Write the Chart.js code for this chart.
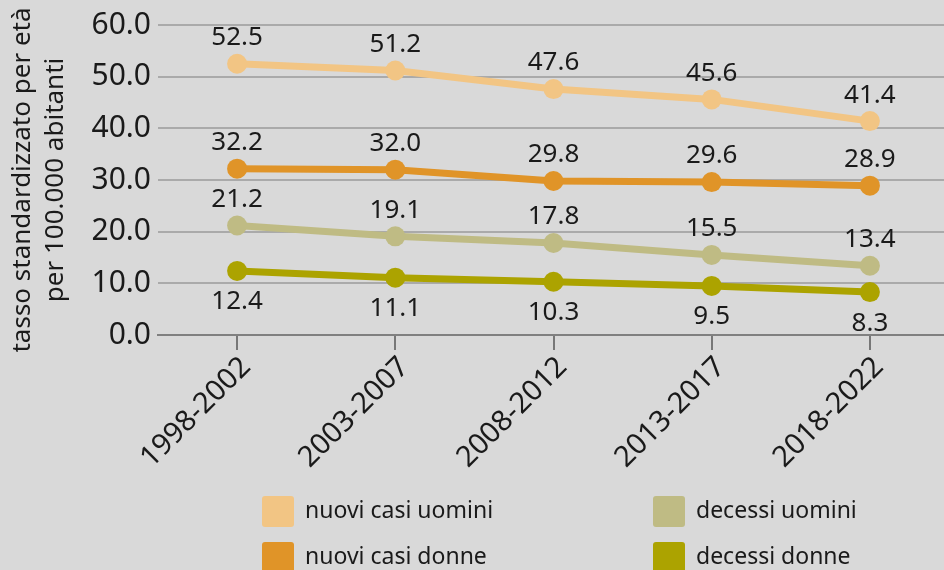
<!DOCTYPE html>
<html>
<head>
<meta charset="utf-8">
<script src="https://cdn.jsdelivr.net/npm/chart.js@4.4.1/dist/chart.umd.min.js"></script>
<style>
  html, body { margin: 0; padding: 0; width: 944px; height: 570px; overflow: hidden; background: #d9d9d9; font-family: "Noto Sans", sans-serif; }
  #wrap { position: absolute; left: 0; top: 0; width: 959px; height: 485px; }
  #legend { position: absolute; left: 0; top: 0; width: 944px; height: 570px; pointer-events: none; }
  .item { position: absolute; display: flex; align-items: center; height: 31px; font-size: 23px; color: #1a1a1a; white-space: nowrap; }
  .item span { position: relative; top: -3px; }
  .box { width: 32px; height: 31px; border-radius: 3px; margin-right: 11px; flex: none; }
</style>
</head>
<body>
<div id="wrap"><canvas id="c"></canvas></div>
<div id="legend"></div>
<script>
const categories = ["1998-2002", "2003-2007", "2008-2012", "2013-2017", "2018-2022"];
const nuoviCasiUomini = [52.5, 51.2, 47.6, 45.6, 41.4];
const nuoviCasiDonne = [32.2, 32.0, 29.8, 29.6, 28.9];
const decessiUomini = [21.2, 19.1, 17.8, 15.5, 13.4];
const decessiDonne = [12.4, 11.1, 10.3, 9.5, 8.3];
const yTicks = [0, 10, 20, 30, 40, 50, 60];
const seriesLabels = ["nuovi casi uomini", "nuovi casi donne", "decessi uomini", "decessi donne"];
const seriesColors = ["#f2c584", "#e09428", "#bfbb84", "#aca300"];
const labelBelow = [false, false, false, true];

const seriesData = [nuoviCasiUomini, nuoviCasiDonne, decessiUomini, decessiDonne];
const FONT = "'Noto Sans', sans-serif";
const TXT = "#1a1a1a";

const datasets = seriesData.map((d, i) => ({
  label: seriesLabels[i],
  data: d,
  borderColor: seriesColors[i],
  backgroundColor: seriesColors[i],
  pointBackgroundColor: seriesColors[i],
  pointBorderWidth: 0,
  pointRadius: 10,
  pointHoverRadius: 10,
  borderWidth: 7,
  tension: 0,
  fill: false,
  labelBelow: labelBelow[i]
}));

const valueLabels = {
  id: 'valueLabels',
  afterDatasetsDraw(chart) {
    const ctx = chart.ctx;
    ctx.save();
    ctx.font = "26px " + FONT;
    ctx.fillStyle = TXT;
    ctx.textAlign = 'center';
    ctx.textBaseline = 'middle';
    chart.data.datasets.forEach((ds, i) => {
      const meta = chart.getDatasetMeta(i);
      meta.data.forEach((pt, j) => {
        const v = ds.data[j];
        const y = ds.labelBelow ? pt.y + 31 : pt.y - 26;
        ctx.fillText(v.toFixed(1), pt.x, y);
      });
    });
    ctx.restore();
  }
};

new Chart(document.getElementById('c'), {
  type: 'line',
  data: { labels: categories, datasets },
  options: {
    responsive: true,
    maintainAspectRatio: false,
    animation: false,
    layout: { padding: { top: 24, right: 0, left: 0, bottom: 0 } },
    plugins: { legend: { display: false }, tooltip: { enabled: false } },
    scales: {
      x: {
        offset: true,
        grid: { drawOnChartArea: false, drawTicks: true, tickLength: 15, color: '#777', lineWidth: 2 },
        border: { display: true, color: '#808080', width: 2 },
        ticks: { font: { family: FONT, size: 29 }, color: TXT, minRotation: 45, maxRotation: 45, padding: 0, labelOffset: 9, autoSkip: false },
        afterFit(scale) { scale.height = 150; }
      },
      y: {
        min: 0, max: 60,
        afterBuildTicks(scale) { scale.ticks = yTicks.map(v => ({ value: v })); },
        grid: { color: '#aaaaaa', lineWidth: 2, drawTicks: false },
        border: { display: false },
        ticks: { font: { family: FONT, size: 30 }, color: TXT, padding: 7, callback: v => Number(v).toFixed(1) },
        title: { display: true, text: ['tasso standardizzato per età', 'per 100.000 abitanti'], font: { family: FONT, size: 26, lineHeight: 1.27 }, color: TXT, padding: { top: 6, bottom: 0 } },
        afterFit(scale) { scale.width = 158; }
      }
    }
  },
  plugins: [valueLabels]
});

// legend (two columns) built from the series
const legendPos = [[262, 496], [262, 542], [653, 496], [653, 542]];
const lg = document.getElementById('legend');
seriesLabels.forEach((lab, i) => {
  const it = document.createElement('div');
  it.className = 'item';
  it.style.left = legendPos[i][0] + 'px';
  it.style.top = legendPos[i][1] + 'px';
  const b = document.createElement('div');
  b.className = 'box';
  b.style.background = seriesColors[i];
  const t = document.createElement('span');
  t.textContent = lab;
  it.appendChild(b); it.appendChild(t);
  lg.appendChild(it);
});
</script>
</body>
</html>
